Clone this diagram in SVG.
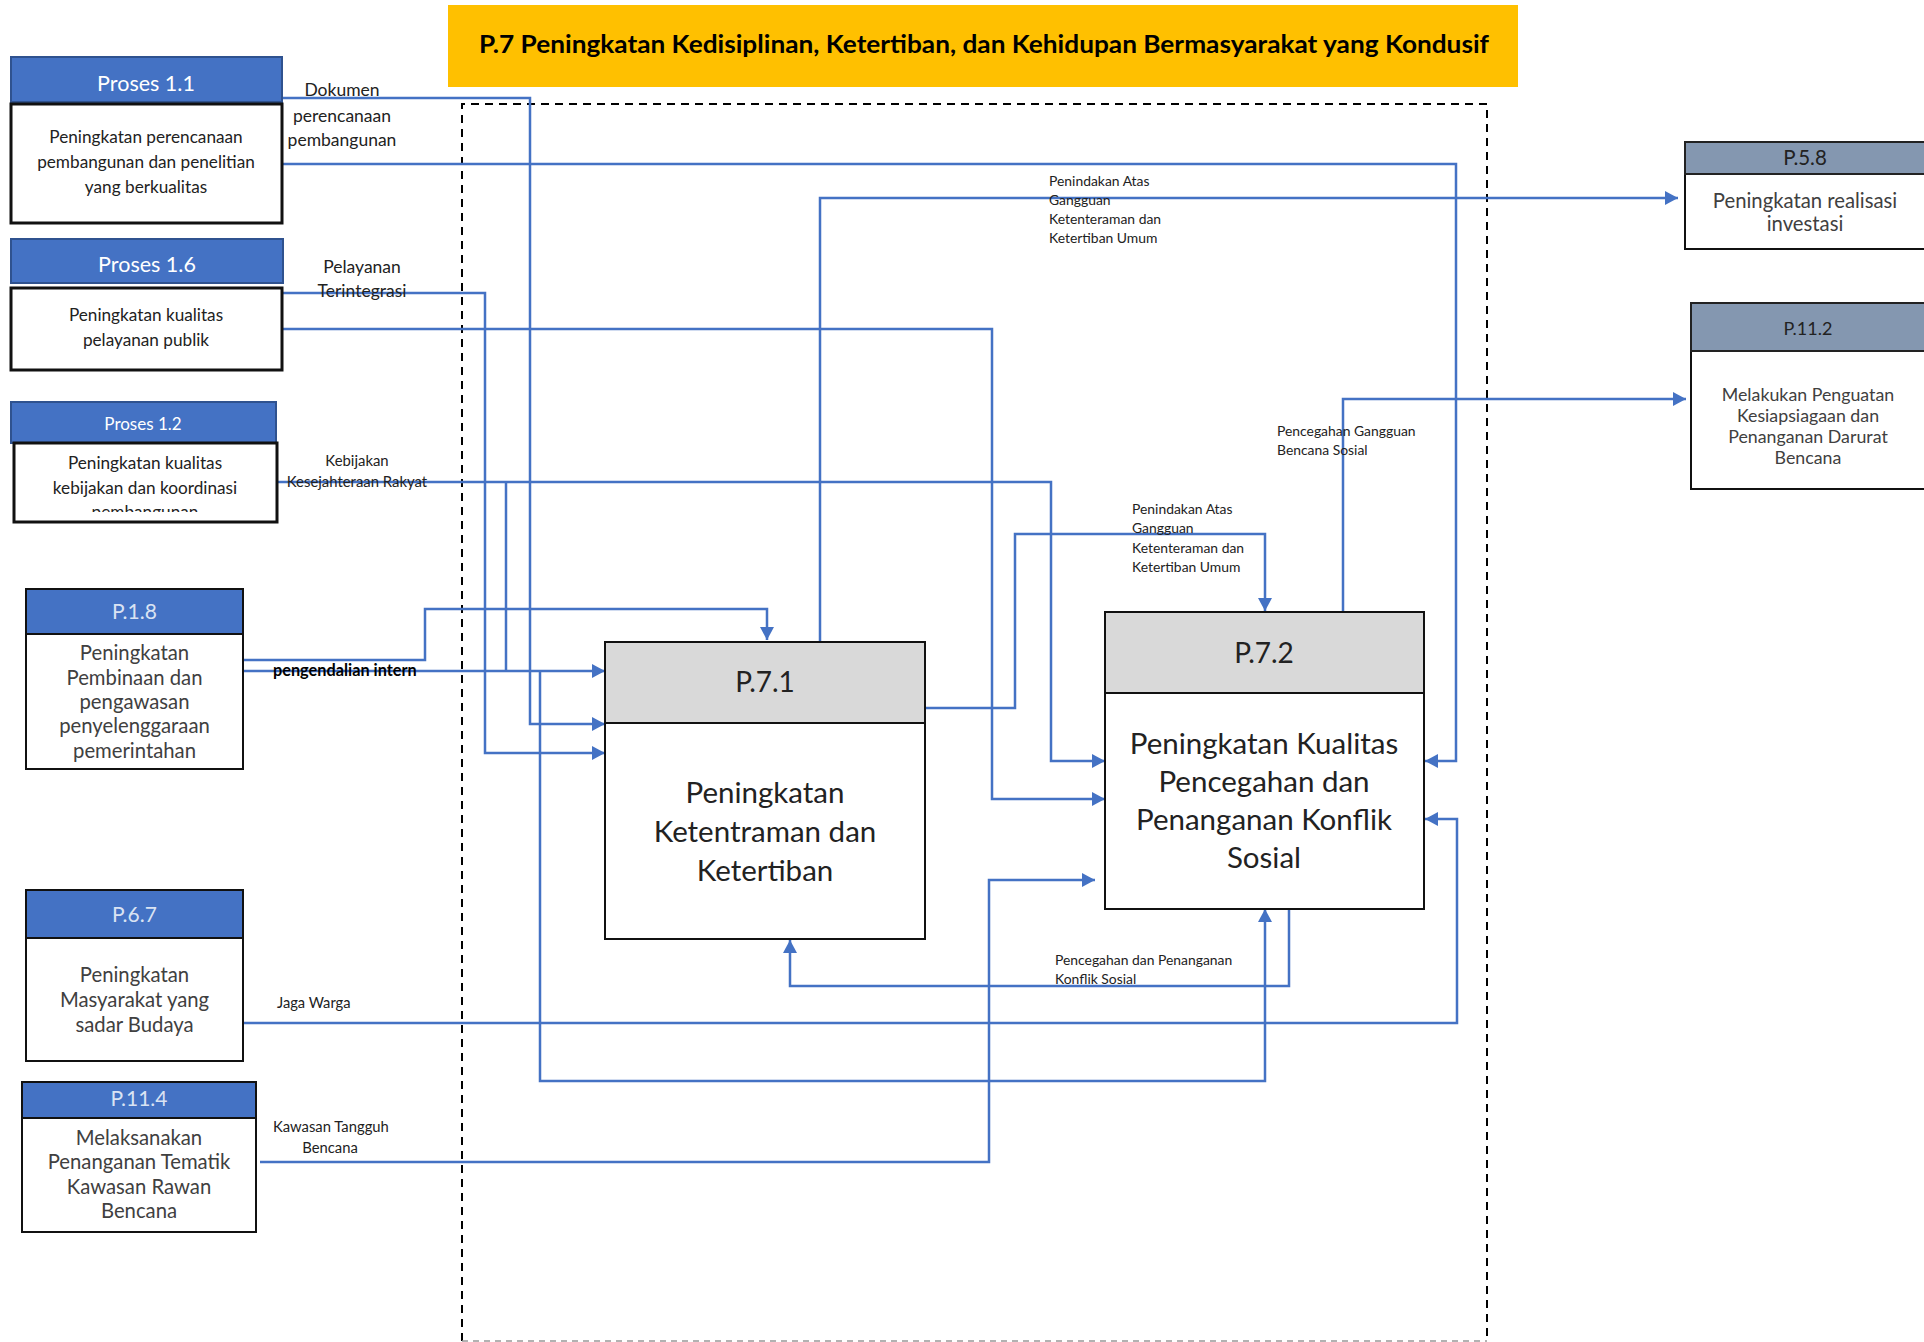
<svg xmlns="http://www.w3.org/2000/svg" width="1924" height="1342" viewBox="0 0 1924 1342">
<style>
text{font-family:Lato,"Open Sans","Liberation Sans",sans-serif}
.hb{fill:#4472C4;stroke:#2F528F;stroke-width:2}
.hg{fill:#8497B0;stroke:#222;stroke-width:2}
.hd{fill:#D9D9D9;stroke:#111;stroke-width:2}
.bx{fill:#fff;stroke:#111;stroke-width:2}
.bx3{fill:#fff;stroke:#111;stroke-width:3}
.ht{fill:#fff;font-size:21.5px;text-anchor:middle}
.hl{fill:#DAE3F3;font-size:21px;text-anchor:middle}
.t1{fill:#222;font-size:17.2px;text-anchor:middle}
.t2{fill:#404040;font-size:20.3px;text-anchor:middle}
.t3{fill:#222;font-size:29.5px;text-anchor:middle}
.lb{fill:#222;font-size:17.5px}
.ls{fill:#222;font-size:13.9px}
.c{fill:none;stroke:#4472C4;stroke-width:2.5}
</style>
<defs>
<marker id="ah" markerUnits="userSpaceOnUse" markerWidth="14" markerHeight="14" refX="13" refY="7" orient="auto">
<path d="M0,0 L13,7 L0,14 z" fill="#4472C4"/>
</marker>
<clipPath id="clip12"><rect x="14" y="442" width="263" height="70"/></clipPath>
</defs>
<rect width="1924" height="1342" fill="#fff"/>

<g id="title">
<rect x="448" y="5" width="1070" height="82" fill="#FFC000"/>
<text x="984" y="53" style="font-size:24px;font-weight:bold;text-anchor:middle" fill="#000" textLength="1010" lengthAdjust="spacingAndGlyphs">P.7 Peningkatan Kedisiplinan, Ketertiban, dan Kehidupan Bermasyarakat yang Kondusif</text>
</g>

<g id="container">
<path d="M462,1341 V104 H1487 V1341" fill="none" stroke="#000" stroke-width="2" stroke-dasharray="8,6"/>
<path d="M462,1341 H1487" fill="none" stroke="#999" stroke-width="1.5" stroke-dasharray="6,5"/>
</g>

<g id="connectors">
<path class="c" d="M282,98 H530 V724 H605" marker-end="url(#ah)"/>
<path class="c" d="M282,164 H1456 V761 H1425" marker-end="url(#ah)"/>
<path class="c" d="M282,293 H485 V753 H605" marker-end="url(#ah)"/>
<path class="c" d="M282,329 H992 V799 H1105" marker-end="url(#ah)"/>
<path class="c" d="M277,482 H1051 V761 H1105" marker-end="url(#ah)"/>
<path class="c" d="M506,482 V671"/>
<path class="c" d="M243,660 H425 V609 H767 V640" marker-end="url(#ah)"/>
<path class="c" d="M243,671 H605" marker-end="url(#ah)"/>
<path class="c" d="M540,671 V1081 H1265 V909" marker-end="url(#ah)"/>
<path class="c" d="M820,642 V198 H1678" marker-end="url(#ah)"/>
<path class="c" d="M925,708 H1015 V534 H1265 V611" marker-end="url(#ah)"/>
<path class="c" d="M1343,612 V399 H1686" marker-end="url(#ah)"/>
<path class="c" d="M1289,909 V986 H790 V940" marker-end="url(#ah)"/>
<path class="c" d="M243,1023 H1457 V819 H1425" marker-end="url(#ah)"/>
<path class="c" d="M260,1162 H989 V880 H1095" marker-end="url(#ah)"/>
</g>

<g id="labels">
<text class="lb" x="342" y="96" text-anchor="middle">Dokumen</text>
<text class="lb" x="342" y="122" text-anchor="middle">perencanaan</text>
<text class="lb" x="342" y="146" text-anchor="middle">pembangunan</text>
<text class="lb" x="362" y="273" text-anchor="middle">Pelayanan</text>
<text class="lb" x="362" y="297" text-anchor="middle">Terintegrasi</text>
<text x="357" y="466" fill="#222" style="font-size:14.9px;text-anchor:middle">Kebijakan</text>
<text x="357" y="487" fill="#222" style="font-size:14.9px;text-anchor:middle">Kesejahteraan Rakyat</text>
<text x="273" y="676" fill="#000" style="font-size:16.3px;font-weight:bold">pengendalian intern</text>
<text x="277" y="1008" fill="#222" style="font-size:14.7px">Jaga Warga</text>
<text x="273" y="1132" fill="#222" style="font-size:14.8px">Kawasan Tangguh</text>
<text x="330" y="1153" fill="#222" style="font-size:14.8px;text-anchor:middle">Bencana</text>
<text class="ls" x="1049" y="186">Penindakan Atas</text>
<text class="ls" x="1049" y="205">Gangguan</text>
<text class="ls" x="1049" y="224">Ketenteraman dan</text>
<text class="ls" x="1049" y="243">Ketertiban Umum</text>
<text class="ls" x="1277" y="436">Pencegahan Gangguan</text>
<text class="ls" x="1277" y="455">Bencana Sosial</text>
<text class="ls" x="1132" y="514">Penindakan Atas</text>
<text class="ls" x="1132" y="533">Gangguan</text>
<text class="ls" x="1132" y="553">Ketenteraman dan</text>
<text class="ls" x="1132" y="572">Ketertiban Umum</text>
<text class="ls" x="1055" y="965">Pencegahan dan Penanganan</text>
<text class="ls" x="1055" y="984">Konflik Sosial</text>
</g>

<g id="proses-1-1">
<rect class="hb" x="11" y="57" width="271" height="45"/>
<text class="ht" x="146" y="91">Proses 1.1</text>
<rect class="bx3" x="11" y="104" width="271" height="119"/>
<text class="t1" x="146" y="143">Peningkatan perencanaan</text>
<text class="t1" x="146" y="168">pembangunan dan penelitian</text>
<text class="t1" x="146" y="193">yang berkualitas</text>
</g>

<g id="proses-1-6">
<rect class="hb" x="11" y="239" width="272" height="44"/>
<text class="ht" x="147" y="272">Proses 1.6</text>
<rect class="bx3" x="11" y="288" width="271" height="82"/>
<text class="t1" x="146" y="321">Peningkatan kualitas</text>
<text class="t1" x="146" y="346">pelayanan publik</text>
</g>

<g id="proses-1-2">
<rect class="hb" x="11" y="402" width="265" height="41"/>
<text class="ht" x="143" y="430" style="font-size:17px">Proses 1.2</text>
<rect class="bx3" x="14" y="443" width="263" height="79"/>
<text class="t1" x="145" y="469">Peningkatan kualitas</text>
<text class="t1" x="145" y="494">kebijakan dan koordinasi</text>
<text class="t1" x="145" y="518" clip-path="url(#clip12)">pembangunan</text>
</g>

<g id="p-1-8">
<rect class="bx" x="26" y="589" width="217" height="180"/>
<rect class="hb" x="26" y="589" width="217" height="45" style="stroke:#111"/>
<text class="hl" x="134.5" y="619">P.1.8</text>
<text class="t2" x="134.5" y="660">Peningkatan</text>
<text class="t2" x="134.5" y="685">Pembinaan dan</text>
<text class="t2" x="134.5" y="709">pengawasan</text>
<text class="t2" x="134.5" y="733">penyelenggaraan</text>
<text class="t2" x="134.5" y="758">pemerintahan</text>
</g>

<g id="p-6-7">
<rect class="bx" x="26" y="890" width="217" height="171"/>
<rect class="hb" x="26" y="890" width="217" height="48" style="stroke:#111"/>
<text class="hl" x="134.5" y="922">P.6.7</text>
<text class="t2" x="134.5" y="982">Peningkatan</text>
<text class="t2" x="134.5" y="1007">Masyarakat yang</text>
<text class="t2" x="134.5" y="1032">sadar Budaya</text>
</g>

<g id="p-11-4">
<rect class="bx" x="22" y="1082" width="234" height="150"/>
<rect class="hb" x="22" y="1082" width="234" height="36" style="stroke:#111"/>
<text class="hl" x="139" y="1106">P.11.4</text>
<text class="t2" x="139" y="1145">Melaksanakan</text>
<text class="t2" x="139" y="1169">Penanganan Tematik</text>
<text class="t2" x="139" y="1194">Kawasan Rawan</text>
<text class="t2" x="139" y="1218">Bencana</text>
</g>

<g id="p-5-8">
<rect class="bx" x="1685" y="142" width="250" height="107"/>
<rect class="hg" x="1685" y="142" width="250" height="32"/>
<text x="1805" y="165" fill="#222" style="font-size:20.5px;text-anchor:middle">P.5.8</text>
<text class="t2" x="1805" y="208">Peningkatan realisasi</text>
<text class="t2" x="1805" y="231">investasi</text>
</g>

<g id="p-11-2">
<rect class="bx" x="1691" y="303" width="250" height="186"/>
<rect class="hg" x="1691" y="303" width="250" height="48"/>
<text x="1808" y="335" fill="#222" style="font-size:18px;text-anchor:middle">P.11.2</text>
<text x="1808" y="401" fill="#404040" style="font-size:17.8px;text-anchor:middle">Melakukan Penguatan</text>
<text x="1808" y="422" fill="#404040" style="font-size:17.8px;text-anchor:middle">Kesiapsiagaan dan</text>
<text x="1808" y="443" fill="#404040" style="font-size:17.8px;text-anchor:middle">Penanganan Darurat</text>
<text x="1808" y="464" fill="#404040" style="font-size:17.8px;text-anchor:middle">Bencana</text>
</g>

<g id="p-7-1">
<rect class="bx" x="605" y="642" width="320" height="297"/>
<rect class="hd" x="605" y="642" width="320" height="81"/>
<text x="765" y="692" fill="#222" style="font-size:28px;text-anchor:middle">P.7.1</text>
<text class="t3" x="765" y="803">Peningkatan</text>
<text class="t3" x="765" y="842">Ketentraman dan</text>
<text class="t3" x="765" y="881">Ketertiban</text>
</g>

<g id="p-7-2">
<rect class="bx" x="1105" y="612" width="319" height="297"/>
<rect class="hd" x="1105" y="612" width="319" height="81"/>
<text x="1264" y="663" fill="#222" style="font-size:28px;text-anchor:middle">P.7.2</text>
<text class="t3" x="1264" y="754">Peningkatan Kualitas</text>
<text class="t3" x="1264" y="792">Pencegahan dan</text>
<text class="t3" x="1264" y="830">Penanganan Konflik</text>
<text class="t3" x="1264" y="868">Sosial</text>
</g>
</svg>
